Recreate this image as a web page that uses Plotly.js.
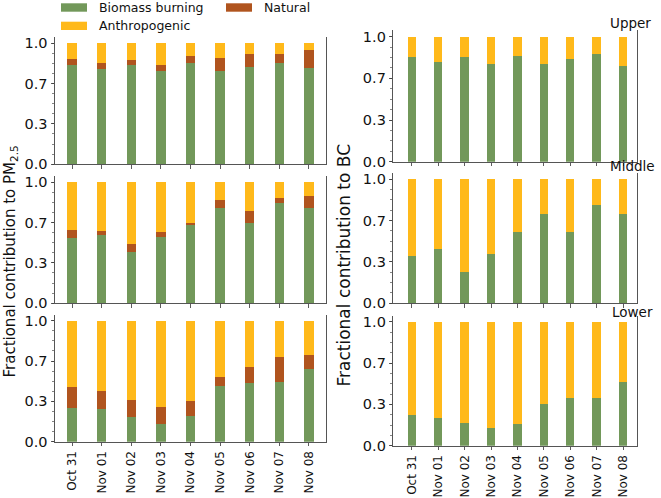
<!DOCTYPE html>
<html><head><meta charset="utf-8">
<script src="https://cdn.plot.ly/plotly-3.0.1.min.js"></script>
<style>html,body{margin:0;padding:0;background:#fff;} #chart{width:661px;height:498px;}</style>
</head><body><div id="chart"></div>
<script>
const dates = ['Oct 31','Nov 01','Nov 02','Nov 03','Nov 04','Nov 05','Nov 06','Nov 07','Nov 08'];

// PM2.5 fractional contributions
const pmUpperBiomass = [0.815, 0.782, 0.815, 0.769, 0.837, 0.769, 0.804, 0.837, 0.791];
const pmUpperNatural = [0.053, 0.050, 0.047, 0.046, 0.058, 0.110, 0.105, 0.075, 0.154];
const pmUpperAnthro  = [0.132, 0.168, 0.138, 0.185, 0.105, 0.121, 0.091, 0.088, 0.055];

const pmMiddleBiomass = [0.537, 0.565, 0.427, 0.548, 0.647, 0.785, 0.664, 0.824, 0.788];
const pmMiddleNatural = [0.069, 0.030, 0.063, 0.042, 0.014, 0.066, 0.099, 0.047, 0.094];
const pmMiddleAnthro  = [0.394, 0.405, 0.510, 0.410, 0.339, 0.149, 0.237, 0.129, 0.118];

const pmLowerBiomass = [0.281, 0.273, 0.207, 0.146, 0.215, 0.457, 0.488, 0.490, 0.603];
const pmLowerNatural = [0.168, 0.143, 0.137, 0.141, 0.121, 0.080, 0.129, 0.207, 0.110];
const pmLowerAnthro  = [0.551, 0.584, 0.656, 0.713, 0.664, 0.463, 0.383, 0.303, 0.287];

// BC fractional contributions
const bcUpperBiomass = [0.835, 0.800, 0.837, 0.784, 0.845, 0.784, 0.824, 0.861, 0.768];
const bcUpperAnthro  = [0.165, 0.200, 0.163, 0.216, 0.155, 0.216, 0.176, 0.139, 0.232];

const bcMiddleBiomass = [0.379, 0.438, 0.253, 0.401, 0.578, 0.723, 0.575, 0.796, 0.723];
const bcMiddleAnthro  = [0.621, 0.562, 0.747, 0.599, 0.422, 0.277, 0.425, 0.204, 0.277];

const bcLowerBiomass = [0.250, 0.223, 0.185, 0.145, 0.177, 0.336, 0.384, 0.384, 0.513];
const bcLowerAnthro  = [0.750, 0.777, 0.815, 0.855, 0.823, 0.664, 0.616, 0.616, 0.487];

const yTickVals = [0, 1/3, 2/3, 1];
const yTickText = ['0.0', '0.3', '0.7', '1.0'];
const panelLabels = ['Upper', 'Middle', 'Lower'];
const legendNames = ['Biomass burning', 'Natural', 'Anthropogenic'];

const GREEN = '#72985a', BROWN = '#b0541e', ORANGE = '#ffb91a';
const FONT = 'DejaVu Sans, sans-serif';
const W = 661, H = 498;
const BW = 0.32;

function bar(y, color, name, n) {
  return {type: 'bar', x: dates, y: y, width: BW, name: name,
    marker: {color: color, line: {width: 0}},
    xaxis: 'x' + n, yaxis: 'y' + n, showlegend: false, hoverinfo: 'skip'};
}

const traces = [
  bar(pmUpperBiomass, GREEN, legendNames[0], 1), bar(pmUpperNatural, BROWN, legendNames[1], 1), bar(pmUpperAnthro, ORANGE, legendNames[2], 1),
  bar(pmMiddleBiomass, GREEN, legendNames[0], 2), bar(pmMiddleNatural, BROWN, legendNames[1], 2), bar(pmMiddleAnthro, ORANGE, legendNames[2], 2),
  bar(pmLowerBiomass, GREEN, legendNames[0], 3), bar(pmLowerNatural, BROWN, legendNames[1], 3), bar(pmLowerAnthro, ORANGE, legendNames[2], 3),
  bar(bcUpperBiomass, GREEN, legendNames[0], 4), bar(bcUpperAnthro, ORANGE, legendNames[2], 4),
  bar(bcMiddleBiomass, GREEN, legendNames[0], 5), bar(bcMiddleAnthro, ORANGE, legendNames[2], 5),
  bar(bcLowerBiomass, GREEN, legendNames[0], 6), bar(bcLowerAnthro, ORANGE, legendNames[2], 6)
];
traces.forEach(t => { if (t.xaxis === 'x1') { t.xaxis = 'x'; t.yaxis = 'y'; } });

const px = v => v / W;
const py = v => 1 - v / H;

function xax(dom, range, showLabels, anchor) {
  return {type: 'category', domain: dom, range: range, anchor: anchor, showline: true, linecolor: '#555', linewidth: 1,
    ticks: 'outside', ticklen: 3.5, tickwidth: 0.8, tickcolor: '#333', showgrid: false, zeroline: false,
    showticklabels: showLabels, tickangle: -90, tickfont: {family: FONT, size: 12, color: '#111'}, fixedrange: true};
}
function yax(dom, anchor) {
  return {domain: dom, range: [0, 1.05], anchor: anchor, showline: true, mirror: true, linecolor: '#555', linewidth: 1,
    tickmode: 'array', tickvals: yTickVals, ticktext: yTickText,
    ticks: 'outside', ticklen: 3.5, tickwidth: 0.8, tickcolor: '#333', showgrid: false, zeroline: false,
    minor: {tickmode: 'linear', tick0: 0, dtick: 1/12, ticks: 'outside', ticklen: 2, tickwidth: 0.6, tickcolor: '#333', showgrid: false},
    tickfont: {family: FONT, size: 14.5, color: '#111'}, fixedrange: true};
}

const leftX = [px(55), px(326)], rightX = [px(393.3), px(637.3)];
const leftRange = [-0.575, 8.575], rightRange = [-0.70, 8.54];

const layout = {
  width: W, height: H, margin: {l: 0, r: 0, t: 0, b: 0},
  paper_bgcolor: '#fff', plot_bgcolor: '#fff', barmode: 'stack', showlegend: false,
  font: {family: FONT, color: '#111'},
  xaxis:  xax(leftX, leftRange, false, 'y'),
  xaxis2: xax(leftX, leftRange, false, 'y2'),
  xaxis3: xax(leftX, leftRange, true, 'y3'),
  xaxis4: xax(rightX, rightRange, false, 'y4'),
  xaxis5: xax(rightX, rightRange, false, 'y5'),
  xaxis6: xax(rightX, rightRange, true, 'y6'),
  yaxis:  yax([py(164.3), py(37)], 'x'),
  yaxis2: yax([py(303.3), py(176)], 'x2'),
  yaxis3: yax([py(441.7), py(314.7)], 'x3'),
  yaxis4: yax([py(161.7), py(30.4)], 'x4'),
  yaxis5: yax([py(303.3), py(173.1)], 'x5'),
  yaxis6: yax([py(445.7), py(315.5)], 'x6'),
  shapes: [
    {type: 'rect', xref: 'paper', yref: 'paper', x0: px(61), x1: px(87), y0: py(11.7), y1: py(3.3), fillcolor: GREEN, line: {width: 0}},
    {type: 'rect', xref: 'paper', yref: 'paper', x0: px(226), x1: px(252), y0: py(11.7), y1: py(3.3), fillcolor: BROWN, line: {width: 0}},
    {type: 'rect', xref: 'paper', yref: 'paper', x0: px(61), x1: px(87), y0: py(30), y1: py(21.7), fillcolor: ORANGE, line: {width: 0}}
  ],
  annotations: [
    {text: legendNames[0], xref: 'paper', yref: 'paper', x: px(97), y: py(7.5), xanchor: 'left', yanchor: 'middle', showarrow: false, font: {family: FONT, size: 12.5, color: '#111'}},
    {text: legendNames[1], xref: 'paper', yref: 'paper', x: px(262), y: py(7.5), xanchor: 'left', yanchor: 'middle', showarrow: false, font: {family: FONT, size: 12.5, color: '#111'}},
    {text: legendNames[2], xref: 'paper', yref: 'paper', x: px(97), y: py(25.8), xanchor: 'left', yanchor: 'middle', showarrow: false, font: {family: FONT, size: 12.5, color: '#111'}},
    {text: 'Fractional contribution to PM<sub>2.5</sub>', xref: 'paper', yref: 'paper', x: px(9.5), y: py(262), xanchor: 'center', yanchor: 'middle', textangle: -90, showarrow: false, font: {family: FONT, size: 15, color: '#111'}},
    {text: 'Fractional contribution to BC', xref: 'paper', yref: 'paper', x: px(343.5), y: py(265), xanchor: 'center', yanchor: 'middle', textangle: -90, showarrow: false, font: {family: FONT, size: 17, color: '#111'}},
    {text: panelLabels[0], xref: 'paper', yref: 'paper', x: px(608), y: py(23), xanchor: 'left', yanchor: 'middle', showarrow: false, font: {family: FONT, size: 13.5, color: '#111'}},
    {text: panelLabels[1], xref: 'paper', yref: 'paper', x: px(608), y: py(166), xanchor: 'left', yanchor: 'middle', showarrow: false, font: {family: FONT, size: 13.5, color: '#111'}},
    {text: panelLabels[2], xref: 'paper', yref: 'paper', x: px(610), y: py(312), xanchor: 'left', yanchor: 'middle', showarrow: false, font: {family: FONT, size: 13.5, color: '#111'}}
  ]
};

Plotly.newPlot('chart', traces, layout, {displayModeBar: false, staticPlot: true});
</script>
</body></html>
